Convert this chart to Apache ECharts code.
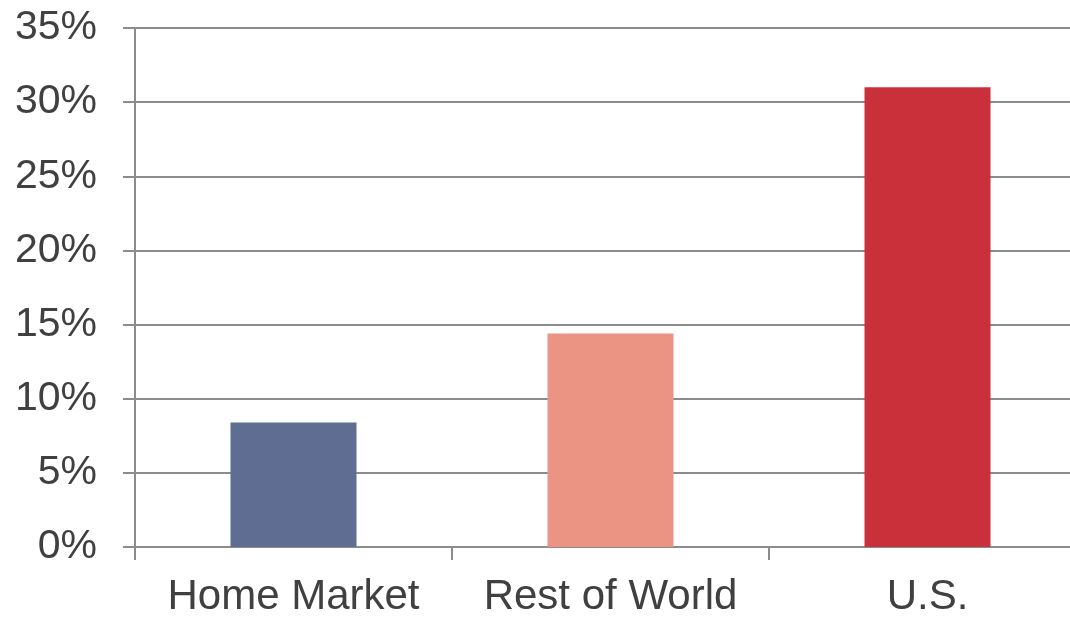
<!DOCTYPE html>
<html>
<head>
<meta charset="utf-8">
<script src="https://cdn.jsdelivr.net/npm/echarts@6/dist/echarts.min.js"></script>
<style>
  html, body { margin: 0; padding: 0; background: #ffffff; overflow: hidden; }
  /* the plot area runs a little past the right edge of the 1070px view */
  #chart { width: 1090px; height: 618px; }
</style>
</head>
<body>
<div id="chart"></div>
<script>
// Share of revenue growth by market
const categories = ['Home Market', 'Rest of World', 'U.S.'];
const values = [8.4, 14.4, 31.0];
const barColors = ['#5f6d92', '#ec9484', '#c9303a'];
const yTicks = { min: 0, max: 35, interval: 5 };

const gridColor = '#8c8c8c';
const textColor = '#404040';
const fontFamily = '"Liberation Sans", Arial, sans-serif';

const chart = echarts.init(document.getElementById('chart'), null, { renderer: 'canvas' });

chart.setOption({
  animation: false,
  backgroundColor: '#ffffff',
  grid: { left: 135, top: 28, width: 951, height: 522, containLabel: false },
  xAxis: {
    type: 'category',
    data: categories,
    boundaryGap: true,
    axisLine: { show: true, lineStyle: { color: gridColor, width: 2 } },
    axisTick: { show: true, length: 13, lineStyle: { color: gridColor, width: 2 } },
    axisLabel: {
      color: textColor, fontSize: 42, fontFamily: fontFamily,
      margin: 29, interval: 0
    },
    splitLine: { show: false }
  },
  yAxis: {
    type: 'value',
    min: yTicks.min,
    max: yTicks.max,
    interval: yTicks.interval,
    axisLine: { show: true, lineStyle: { color: gridColor, width: 2 } },
    axisTick: { show: true, length: 12, lineStyle: { color: gridColor, width: 2 } },
    axisLabel: {
      color: textColor, fontSize: 41, fontFamily: fontFamily,
      margin: 38,
      formatter: v => v + '%'
    },
    splitLine: { show: true, lineStyle: { color: gridColor, width: 2 } }
  },
  series: [{
    type: 'bar',
    data: values.map((v, i) => ({ value: v, itemStyle: { color: barColors[i] } })),
    barWidth: 126
  }]
});
</script>
</body>
</html>
